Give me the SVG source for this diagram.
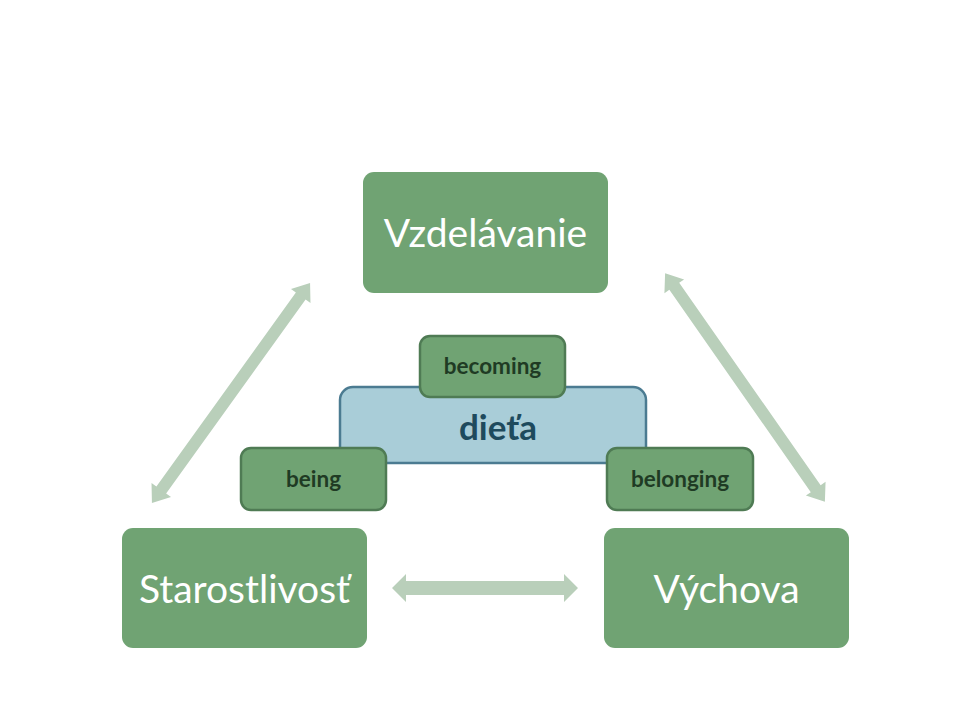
<svg xmlns="http://www.w3.org/2000/svg" width="969" height="727" viewBox="0 0 969 727">
<style>
.main{fill:#70a373}
.sub{fill:#70a373;stroke:#4f7b54;stroke-width:2.5}
.big{font-family:Lato,"Open Sans",sans-serif;font-size:39px;fill:#ffffff;text-anchor:middle}
.small{font-family:Lato,"Open Sans",sans-serif;font-size:22.5px;font-weight:bold;fill:#1f3b24;text-anchor:middle}
.arrow{fill:#b9cfba}
</style>
<rect width="969" height="727" fill="#ffffff"/>
<g id="connectors">
<path class="arrow" d="M392,588 L406,574 L406,581 L564,581 L564,574 L578,588 L564,602 L564,595 L406,595 L406,602 Z"/>
<path class="arrow" transform="translate(231,393) rotate(-54.3)" d="M-135.5,0 l16,-12 v6 h239 v-6 l16,12 l-16,12 v-6 h-239 v6 Z"/>
<path class="arrow" transform="translate(745,387.5) rotate(55.06)" d="M-139.5,0 l16,-12 v6 h247 v-6 l16,12 l-16,12 v-6 h-247 v6 Z"/>
</g>
<g id="vzdelavanie">
<rect class="main" x="363" y="172" width="245" height="121" rx="11"/>
<text class="big" x="485.5" y="247">Vzdelávanie</text>
</g>
<g id="starostlivost">
<rect class="main" x="122" y="528" width="245" height="120" rx="11"/>
<text class="big" x="244.5" y="603">Starostlivosť</text>
</g>
<g id="vychova">
<rect class="main" x="604" y="528" width="245" height="120" rx="11"/>
<text class="big" x="726.5" y="603">Výchova</text>
</g>
<g id="dieta">
<rect x="340" y="387" width="306" height="76" rx="13" fill="#a9cdd8" stroke="#4b7b91" stroke-width="2.5"/>
<text x="498" y="440" font-family="Lato,'Open Sans',sans-serif" font-size="35" font-weight="bold" fill="#1e4a5d" text-anchor="middle">dieťa</text>
</g>
<g id="becoming">
<rect class="sub" x="420" y="336" width="145" height="61" rx="10"/>
<text class="small" x="492.5" y="374">becoming</text>
</g>
<g id="being">
<rect class="sub" x="241" y="448" width="145" height="62" rx="10"/>
<text class="small" x="313.5" y="487">being</text>
</g>
<g id="belonging">
<rect class="sub" x="607" y="448" width="146" height="62" rx="10"/>
<text class="small" x="680" y="487">belonging</text>
</g>
</svg>
